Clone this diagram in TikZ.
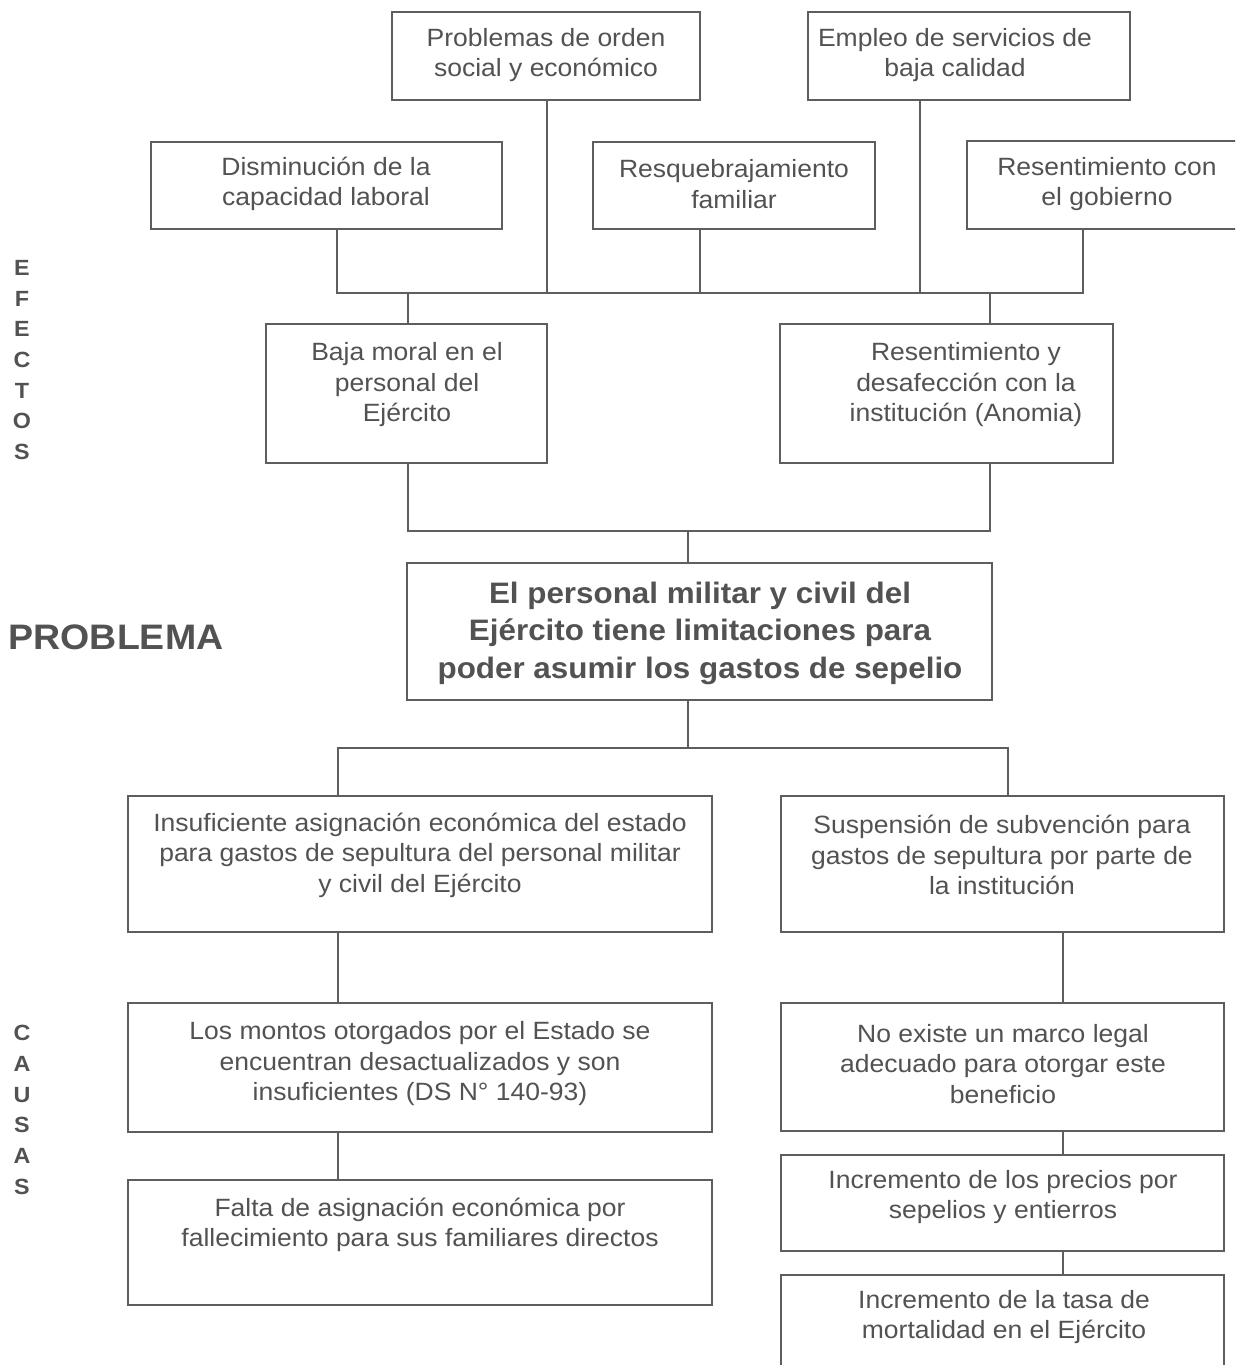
\documentclass[tikz,border=0pt]{standalone}
\usepackage{fontspec}
\setmainfont[FakeStretch=1.06]{Liberation Sans}
\usetikzlibrary{fit}
\definecolor{ink}{HTML}{525252}
\definecolor{ln}{HTML}{5e5e5e}
\begin{document}
\begin{tikzpicture}[x=1pt,y=-1pt,
  box/.style={draw=ln, line width=1.4pt, inner sep=0pt},
  txt/.style={text=ink, align=center, font=\fontsize{25}{30.5}\selectfont, inner sep=0pt},
  btxt/.style={text=ink, align=center, font=\fontsize{29.6}{37.5}\selectfont\bfseries, inner sep=0pt},
  side/.style={text=ink, align=center, font=\fontsize{22}{30.7}\selectfont\bfseries, inner sep=0pt},
  conn/.style={draw=ln, line width=1.4pt}]
\useasboundingbox (0,0) rectangle (1235,1365);
\clip (0,0) rectangle (1235,1365);

% effects
\node[box, fit={(392,12) (700,100)}] (b1) {};
\node[box, fit={(808,12) (1130,100)}] (b2) {};
\node[box, fit={(151,142) (502,229)}] (b3) {};
\node[box, fit={(593,142) (875,229)}] (b4) {};
\node[box, fit={(967,141) (1260,229)}] (b5) {};
\node[box, fit={(266,324) (547,463)}] (e1) {};
\node[box, fit={(780,324) (1113,463)}] (e2) {};
% problem
\node[box, fit={(407,563) (992,700)}] (p) {};
% causes
\node[box, fit={(128,796) (712,932)}] (c1) {};
\node[box, fit={(781,796) (1224,932)}] (c2) {};
\node[box, fit={(128,1003) (712,1132)}] (c3) {};
\node[box, fit={(128,1180) (712,1305)}] (c4) {};
\node[box, fit={(781,1003) (1224,1131)}] (c5) {};
\node[box, fit={(781,1155) (1224,1251)}] (c6) {};
\node[box, fit={(781,1275) (1224,1400)}] (c7) {};

% texts
\node[txt] (t1) at (546,55) {Problemas de orden\\social y económico};
\node[txt] (t2) at (955,55) {Empleo de servicios de\\baja calidad};
\node[txt] (t3) at (326,184) {Disminución de la\\capacidad laboral};
\node[txt] (t4) at (734,184) {Resquebrajamiento\\familiar};
\node[txt] (t5) at (1107,184) {Resentimiento con\\el gobierno};
\node[txt] (te1) at (407,385) {Baja moral en el\\personal del\\Ejército};
\node[txt] (te2) at (966,385) {Resentimiento y\\desafección con la\\institución (Anomia)};
\node[btxt] (tp) at (700,633) {El personal militar y civil del\\Ejército tiene limitaciones para\\poder asumir los gastos de sepelio};
\node[txt] (tc1) at (420,855) {Insuficiente asignación económica del estado\\para gastos de sepultura del personal militar\\y civil del Ejército};
\node[txt] (tc2) at (1002,855) {Suspensión de subvención para\\gastos de sepultura por parte de\\la institución};
\node[txt] (tc3) at (420,1064) {Los montos otorgados por el Estado se\\encuentran desactualizados y son\\insuficientes (DS N° 140-93)};
\node[txt] (tc4) at (420,1225) {Falta de asignación económica por\\fallecimiento para sus familiares directos};
\node[txt] (tc5) at (1003,1064) {No existe un marco legal\\adecuado para otorgar este\\beneficio};
\node[txt] (tc6) at (1003,1197) {Incremento de los precios por\\sepelios y entierros};
\node[txt] (tc7) at (1004,1317) {Incremento de la tasa de\\mortalidad en el Ejército};

% side labels
\node[side] (lef) at (22,360) {E\\F\\E\\C\\T\\O\\S};
\node[side] (lca) at (22,1110) {C\\A\\U\\S\\A\\S};
\node[text=ink, font=\fontsize{35.4}{40}\selectfont\bfseries, inner sep=0pt] (lpr) at (116,637) {PROBLEMA};

% connectors: effects
\draw[conn] (547,0 |- b1.south) -- (547,293);
\draw[conn] (920,0 |- b2.south) -- (920,293);
\draw[conn] (700,0 |- b4.south) -- (700,293);
\draw[conn] (337,0 |- b3.south) -- (337,293) -- (1083,293) -- (1083,0 |- b5.south);
\draw[conn] (408,293) -- (408,0 |- e1.north);
\draw[conn] (990,293) -- (990,0 |- e2.north);
\draw[conn] (408,0 |- e1.south) -- (408,531) -- (990,531) -- (990,0 |- e2.south);
\draw[conn] (688,531) -- (688,0 |- p.north);
% connectors: causes
\draw[conn] (688,0 |- p.south) -- (688,748);
\draw[conn] (338,0 |- c1.north) -- (338,748) -- (1008,748) -- (1008,0 |- c2.north);
\draw[conn] (338,0 |- c1.south) -- (338,0 |- c3.north);
\draw[conn] (338,0 |- c3.south) -- (338,0 |- c4.north);
\draw[conn] (1063,0 |- c2.south) -- (1063,0 |- c5.north);
\draw[conn] (1063,0 |- c5.south) -- (1063,0 |- c6.north);
\draw[conn] (1063,0 |- c6.south) -- (1063,0 |- c7.north);
\end{tikzpicture}
\end{document}
